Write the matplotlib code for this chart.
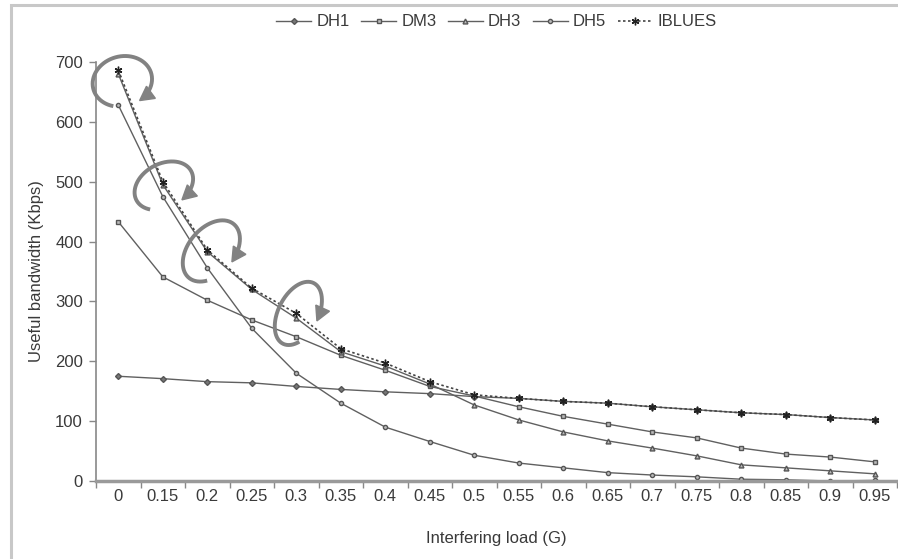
import matplotlib
matplotlib.use('Agg')
import matplotlib.pyplot as plt
import numpy as np
import matplotlib.transforms as mtransforms
from matplotlib.patches import Polygon, Rectangle

# ---------------- data ----------------
loads = ['0', '0.15', '0.2', '0.25', '0.3', '0.35', '0.4', '0.45', '0.5',
         '0.55', '0.6', '0.65', '0.7', '0.75', '0.8', '0.85', '0.9', '0.95']
dh1 = [175, 171, 166, 164, 158, 153, 149, 146, 141, 138, 133, 130, 124, 119, 114, 111, 106, 102]
dm3 = [433, 341, 302, 269, 241, 210, 185, 158, 142, 124, 108, 95, 82, 72, 55, 45, 40, 32]
dh3 = [680, 495, 383, 320, 272, 216, 192, 162, 127, 102, 82, 67, 55, 42, 27, 22, 17, 12]
dh5 = [628, 475, 356, 255, 180, 130, 90, 66, 43, 30, 22, 14, 10, 7, 3, 2, 0, 1]
iblues = [686, 500, 386, 322, 280, 221, 197, 166, 144, 138, 133, 130, 124, 119, 114, 111, 106, 102]
series_names = ['DH1', 'DM3', 'DH3', 'DH5', 'IBLUES']
highlight_idx = [0, 1, 2, 4]   # IBLUES points marked with the circular arrows

plt.rcParams['font.family'] = ['Liberation Sans', 'DejaVu Sans']
FS = 12
TXT = '#3a3a3a'

fig = plt.figure(figsize=(8.98, 5.59), dpi=100)
ax = fig.add_axes([0.107, 0.1395, 0.892, 0.7496])

x = np.arange(len(loads))
line_col = '#606060'
ax.plot(x, dh1, color=line_col, lw=1.0, marker='D', ms=3, mfc='#777777', mec='#555555', label=series_names[0])
ax.plot(x, dm3, color=line_col, lw=1.0, marker='s', ms=3.5, mfc='#bbbbbb', mec='#555555', label=series_names[1])
ax.plot(x, dh3, color=line_col, lw=1.0, marker='^', ms=3.5, mfc='#bbbbbb', mec='#555555', label=series_names[2])
ax.plot(x, dh5, color=line_col, lw=1.0, marker='o', ms=3, mfc='#bbbbbb', mec='#555555', label=series_names[3])
ax.plot(x, iblues, color='#444444', lw=1.2, ls=(0, (1.5, 1.5)), marker=(6, 2, 0), ms=5.5,
        mec='#222222', label=series_names[4])

ax.set_xlim(-0.5, len(loads) - 0.5)
ax.set_ylim(0, 700)
ax.set_xticks(x)
ax.set_xticklabels(loads)
ax.set_xticks(np.arange(len(loads) + 1) - 0.5, minor=True)
ax.tick_params(axis='x', which='major', length=0, pad=6, labelsize=FS, colors=TXT)
ax.tick_params(axis='x', which='minor', length=5, width=1, color='#888888', direction='out')
ax.set_yticks(np.arange(0, 701, 100))
ax.tick_params(axis='y', length=5, width=1, color='#888888', pad=4.5, labelsize=FS, labelcolor=TXT)

for s in ['top', 'right']:
    ax.spines[s].set_visible(False)
ax.spines['left'].set_color('#888888')
ax.spines['left'].set_linewidth(1.2)
ax.spines['bottom'].set_color('#9a9a9a')
ax.spines['bottom'].set_linewidth(2.5)

ax.set_xlabel('Interfering load (G)', fontsize=FS, color=TXT, labelpad=19)
ax.set_ylabel('Useful bandwidth (Kbps)', fontsize=FS, color=TXT, labelpad=8)

leg = ax.legend(loc='center', bbox_to_anchor=(0.5, 1.0 + (62 - 22) / 419.0), ncol=5, frameon=False,
                fontsize=12, handlelength=2.1, handletextpad=0.3, columnspacing=0.7,
                borderaxespad=0)
for t in leg.get_texts():
    t.set_color(TXT)

# circular-arrow annotations around IBLUES points (pixel-sized shapes)
swirl_shapes = [  # dx, dy (px, y up), semi-axis a, semi-axis b, tilt, start angle, end angle (screen polar deg)
    (4, -11, 30, 25, 15, 250, -48),
    (1, -4, 31, 22, 28, 240, -38),
    (4, -1, 35, 23, 50, 262, -28),
    (2, 0, 34, 20, 63, 272, -22),
]
arc_col = '#828282'
head_len, head_half = 14.0, 7.5


def param_of(phi_deg, a, b, rot):
    p = np.deg2rad(phi_deg - rot)
    return np.arctan2(a * np.sin(p), b * np.cos(p))


for idx, (dx, dy, a, b, rot, ang0, ang1) in zip(highlight_idx, swirl_shapes):
    trans = fig.dpi_scale_trans + mtransforms.ScaledTranslation(x[idx], iblues[idx], ax.transData)
    t0 = param_of(ang0, a, b, rot)
    t1 = param_of(ang1, a, b, rot)
    while t0 <= t1:
        t0 += 2 * np.pi
    while t0 - t1 > 2 * np.pi:
        t0 -= 2 * np.pi
    t = np.linspace(t0, t1, 240)
    r = np.deg2rad(rot)
    ex, ey = a * np.cos(t), b * np.sin(t)
    px = ex * np.cos(r) - ey * np.sin(r) + dx
    py = ex * np.sin(r) + ey * np.cos(r) + dy
    tip = np.array([px[-1], py[-1]])
    d = tip - np.array([px[-4], py[-4]])
    d = d / np.hypot(*d)
    nrm = np.array([-d[1], d[0]])
    base = tip - head_len * d
    keep = np.hypot(px - tip[0], py - tip[1]) > head_len * 0.8
    keep[: len(keep) // 2] = True
    ax.plot(px[keep] / fig.dpi, py[keep] / fig.dpi, color=arc_col, lw=2.8,
            solid_capstyle='butt', transform=trans, clip_on=False, zorder=5)
    tri = np.array([tip, base + head_half * nrm, base - head_half * nrm]) / fig.dpi
    ax.add_patch(Polygon(tri, closed=True, color=arc_col, transform=trans, clip_on=False, zorder=5))

# outer frame of the chart area
fig.add_artist(Rectangle((11 / 898, -0.05), 1.2, 1.05 - 5 / 559, transform=fig.transFigure,
                         fill=False, ec='#c8c8c8', lw=2.2))

fig.savefig('out.png', dpi=100, facecolor='white')
